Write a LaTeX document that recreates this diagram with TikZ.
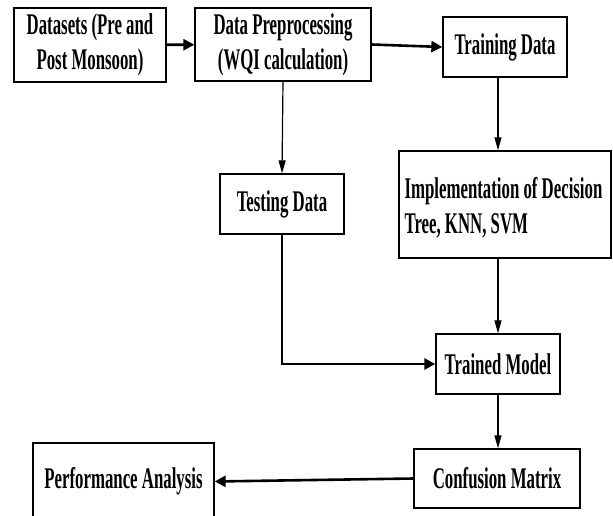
\documentclass[tikz,border=0pt]{standalone}
\usepackage{fontspec}
\setmainfont[FakeStretch=0.56]{Liberation Serif}
\usetikzlibrary{arrows.meta}
\begin{document}
\begin{tikzpicture}[x=1pt,y=-1pt,
  txt/.style={inner sep=0pt,font=\bfseries\fontsize{30}{35}\selectfont},
  box/.style={txt,draw,line width=1.3pt,align=center},
  thinarrow/.style={line width=1.2pt,-{Triangle[length=13pt,width=7pt]}},
  thickarrow/.style={line width=2.6pt,-{Triangle[length=11pt,width=11pt]}}]
\useasboundingbox[fill=white] (0,0) rectangle (613,516);
\node[box,minimum width=152pt,minimum height=74pt] (ds) at (90,45) {Datasets (Pre and\\Post Monsoon)};
\node[box,minimum width=176pt,minimum height=73pt] (pre) at (283,44.5) {Data Preprocessing\\(WQI calculation)};
\node[box,minimum width=124pt,minimum height=60pt] (train) at (505,47) {Training Data};
\node[box,minimum width=124pt,minimum height=60pt] (test) at (282,204) {Testing Data};
\node[box,minimum width=212pt,minimum height=107pt] (impl) at (505,204.5) {};
\node[txt,align=left,anchor=west] (impltext) at ([xshift=6pt,yshift=-3pt]impl.west) {Implementation of Decision\\Tree, KNN, SVM};
\node[box,minimum width=124pt,minimum height=60pt] (tm) at (498,364) {Trained Model};
\node[box,minimum width=166pt,minimum height=59pt] (cm) at (497,478.5) {Confusion Matrix};
\node[box,minimum width=181pt,minimum height=77pt] (perf) at (123.5,481.5) {Performance Analysis};
\draw[thickarrow] (ds) -- (pre);
\draw[thickarrow] (pre.east) -- (train.west);
\draw[thinarrow] (pre.south) -- (test.north);
\draw[thinarrow] (train.south -| tm.north) -- (impl.north -| tm.north);
\draw[thinarrow] (impl.south -| tm.north) -- (tm.north);
\draw[thickarrow] (test.south) |- (tm.west);
\draw[thinarrow] (tm.south) -- (cm.north -| tm.south);
\draw[thickarrow] (cm.west) -- (perf.east);
\end{tikzpicture}
\end{document}
